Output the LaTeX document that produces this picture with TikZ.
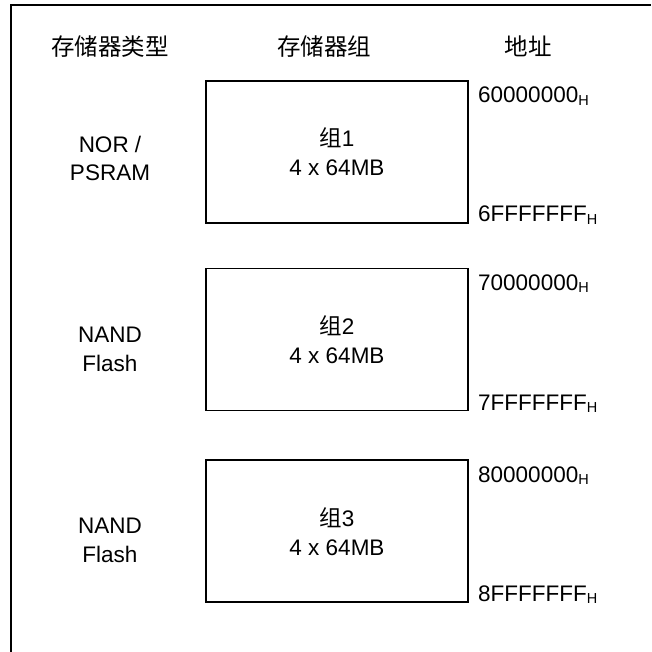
\documentclass[tikz,border=0pt]{standalone}
\usepackage{fontspec}
\setmainfont{Liberation Sans}
\newfontfamily\cjk{Noto Sans CJK SC}
\newcommand{\hsub}{\raisebox{-2.5pt}{\fontsize{14.5}{14}\selectfont H}}
\begin{document}
\begin{tikzpicture}[x=1pt,y=-1pt]
\useasboundingbox (0,0) rectangle (651,652);
\tikzset{
  bank/.style={draw, line width=1.1pt, minimum width=262pt, minimum height=142pt, inner sep=0pt},
  txt/.style={anchor=base, inner sep=0pt, font=\fontsize{22.5}{28}\selectfont},
  cjktxt/.style={anchor=base, inner sep=0pt, font=\fontsize{23.5}{28}\selectfont\cjk},
  addr/.style={anchor=base west, inner sep=0pt, font=\fontsize{22.5}{28}\selectfont},
  frame/.style={line width=2pt}
}
% frame
\coordinate (fbl) at (11,652);
\coordinate (ftl) at (11,5);
\coordinate (ftr) at (651,5);
\draw[frame] (fbl) -- (ftl) -- (ftr);
% headers
\node[cjktxt] (h1) at (110,56) {存储器类型};
\node[cjktxt] (h2) at (324,56) {存储器组};
\node[cjktxt] (h3) at (528,56) {地址};
% banks
\node[bank] (b1) at (337,152) {};
\node[bank] (b2) at (337,339.5) {};
\node[bank] (b3) at (337,531) {};
% bank texts
\node[txt] (g1) at (337,147) {{\cjk 组}1};
\node[txt] (s1) at (337,176) {4 x 64MB};
\node[txt] (g2) at (337,334) {{\cjk 组}2};
\node[txt] (s2) at (337,363) {4 x 64MB};
\node[txt] (g3) at (337,526) {{\cjk 组}3};
\node[txt] (s3) at (337,555) {4 x 64MB};
% memory types
\node[txt] (t1a) at (110,153) {NOR /};
\node[txt] (t1b) at (110,181) {PSRAM};
\node[txt] (t2a) at (110,342) {NAND};
\node[txt] (t2b) at (110,371) {Flash};
\node[txt] (t3a) at (110,533) {NAND};
\node[txt] (t3b) at (110,562) {Flash};
% addresses
\node[addr] (a1s) at (478,103) {60000000\hsub};
\node[addr] (a1e) at (478,222) {6FFFFFFF\hsub};
\node[addr] (a2s) at (478,290) {70000000\hsub};
\node[addr] (a2e) at (478,410) {7FFFFFFF\hsub};
\node[addr] (a3s) at (478,482) {80000000\hsub};
\node[addr] (a3e) at (478,601) {8FFFFFFF\hsub};
\end{tikzpicture}
\end{document}
